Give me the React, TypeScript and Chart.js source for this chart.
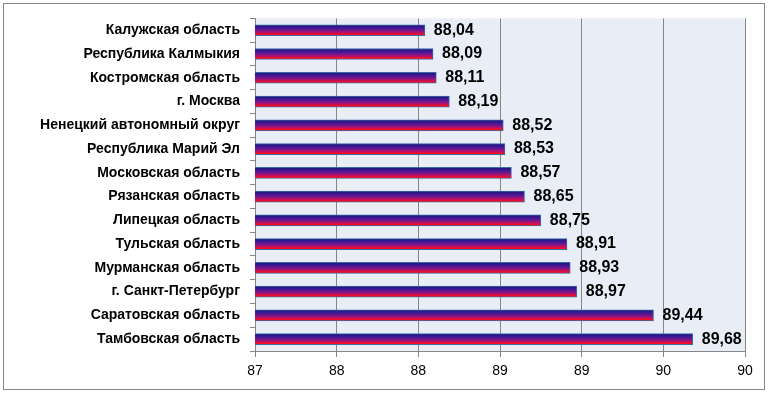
import React, { useEffect, useRef } from "react";
import { Chart, registerables } from "chart.js";

Chart.register(...registerables);

const categories = [
  "Калужская область",
  "Республика Калмыкия",
  "Костромская область",
  "г. Москва",
  "Ненецкий автономный округ",
  "Республика Марий Эл",
  "Московская область",
  "Рязанская область",
  "Липецкая область",
  "Тульская область",
  "Мурманская область",
  "г. Санкт-Петербург",
  "Саратовская область",
  "Тамбовская область",
];

const values = [88.04, 88.09, 88.11, 88.19, 88.52, 88.53, 88.57, 88.65, 88.75, 88.91, 88.93, 88.97, 89.44, 89.68];

const axisMin = 87;
const axisMax = 90;
const axisStep = 0.5;

const FONT = "'Liberation Sans', Arial, sans-serif";

export default function App() {
  const ref = useRef<HTMLCanvasElement | null>(null);

  useEffect(() => {
    document.body.style.margin = "0";
    const canvas = ref.current;
    if (!canvas) return;

    const bgPlugin = {
      id: "bg",
      beforeDraw(chart: any) {
        const { ctx, chartArea } = chart;
        ctx.save();
        ctx.fillStyle = "#ffffff";
        ctx.fillRect(0, 0, chart.width, chart.height);
        ctx.fillStyle = "#e9edf6";
        ctx.fillRect(chartArea.left, chartArea.top, chartArea.right - chartArea.left, chartArea.bottom - chartArea.top);
        ctx.restore();
      },
      afterDraw(chart: any) {
        const { ctx } = chart;
        ctx.save();
        ctx.strokeStyle = "#868686";
        ctx.lineWidth = 1;
        ctx.strokeRect(3.5, 3.5, 761, 386);
        ctx.restore();
      },
    };

    const labelPlugin = {
      id: "valueLabels",
      afterDatasetsDraw(chart: any) {
        const { ctx } = chart;
        const meta = chart.getDatasetMeta(0);
        ctx.save();
        ctx.font = `bold 16px ${FONT}`;
        ctx.fillStyle = "#000000";
        ctx.textAlign = "left";
        ctx.textBaseline = "middle";
        meta.data.forEach((el: any, i: number) => {
          const txt = values[i].toFixed(2).replace(".", ",");
          ctx.fillText(txt, el.x + 9, el.y);
        });
        ctx.restore();
      },
    };

    const BAR = 11;

    const chart = new Chart(canvas, {
      type: "bar",
      data: {
        labels: categories,
        datasets: [
          {
            data: values,
            barThickness: BAR,
            borderWidth: 1,
            borderColor: "#3a6aa8",
            borderSkipped: "start",
            backgroundColor: (context: any) => {
              const c = context.chart;
              const ys = c.scales && c.scales.y;
              if (!ys || context.dataIndex === undefined) return "#7a1a9a";
              const yc = ys.getPixelForValue(context.dataIndex);
              if (!Number.isFinite(yc)) return "#7a1a9a";
              const g = c.ctx.createLinearGradient(0, yc - BAR / 2, 0, yc + BAR / 2);
              g.addColorStop(0, "#16167c");
              g.addColorStop(0.35, "#4a1896");
              g.addColorStop(0.65, "#a0147a");
              g.addColorStop(0.9, "#ff0a1e");
              g.addColorStop(1, "#ff0a14");
              return g;
            },
          },
        ],
      },
      options: {
        indexAxis: "y",
        animation: false,
        responsive: false,
        devicePixelRatio: 1,
        layout: { padding: { left: 0, right: 24, top: 5, bottom: 0 } },
        plugins: {
          legend: { display: false },
          tooltip: { enabled: false },
        },
        scales: {
          x: {
            type: "linear",
            min: axisMin,
            max: axisMax,
            ticks: {
              stepSize: axisStep,
              color: "#000000",
              font: { family: FONT, size: 14 },
              padding: 6,
              callback: (v: any) => String(Math.round(Number(v))),
            },
            grid: { color: "#868686", tickLength: 6, lineWidth: 1 },
            border: { color: "#868686" },
            afterFit: (s: any) => {
              s.height = 42;
            },
          },
          y: {
            type: "category",
            offset: true,
            ticks: {
              color: "#000000",
              font: { family: FONT, size: 14, weight: "bold" },
              padding: 10,
            },
            grid: { offset: true, drawOnChartArea: false, tickLength: 5, color: "#868686" },
            border: { color: "#868686" },
            afterFit: (s: any) => {
              s.width = 255;
            },
          },
        },
      },
      plugins: [bgPlugin, labelPlugin],
    } as any);

    return () => chart.destroy();
  }, []);

  return (
    <div style={{ width: 769, height: 393 }}>
      <canvas ref={ref} width={769} height={393} />
    </div>
  );
}
